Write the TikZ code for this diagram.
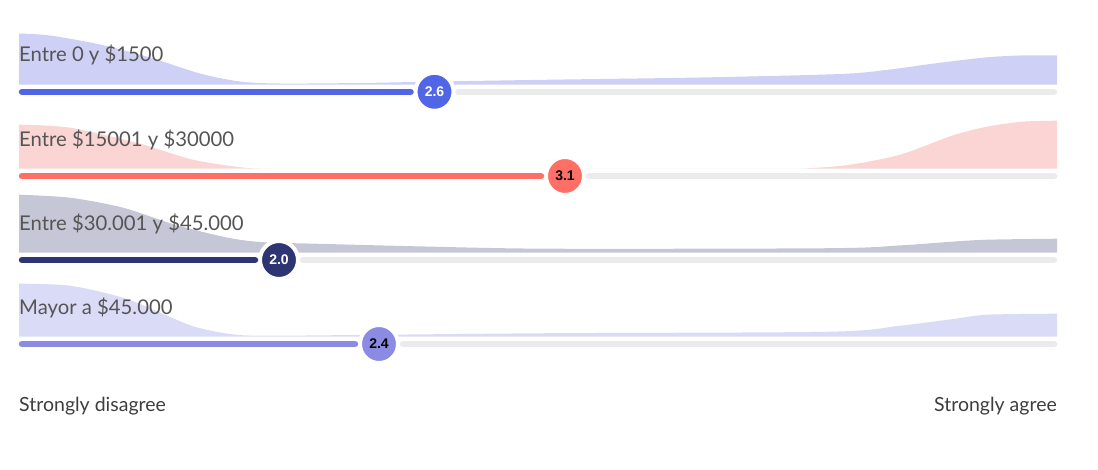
\documentclass[tikz,border=0pt]{standalone}
\usepackage{fontspec}
\setmainfont{Lato}
\newfontfamily\knobfont{Liberation Sans}
\usetikzlibrary{positioning}

\definecolor{blueA}{HTML}{5166E6}
\definecolor{blueArea}{HTML}{CFD0F5}
\definecolor{redA}{HTML}{FF6F66}
\definecolor{redArea}{HTML}{FBD4D4}
\definecolor{navyA}{HTML}{2D3572}
\definecolor{navyArea}{HTML}{C5C6D6}
\definecolor{lilaA}{HTML}{8B8BE3}
\definecolor{lilaArea}{HTML}{DADBF7}
\definecolor{trackgray}{HTML}{EBEBEB}
\definecolor{labelgray}{HTML}{555555}
\definecolor{axisgray}{HTML}{3E3E3E}

\begin{document}
\begin{tikzpicture}[x=1pt,y=1pt]
\tikzstyle{rowlabel}=[anchor=base west,inner sep=0pt,text=labelgray,font=\fontsize{20.3}{24}\selectfont]
\tikzstyle{axislabel}=[inner sep=0pt,text=axisgray,font=\fontsize{19.5}{23}\selectfont]
\tikzstyle{knob}=[circle,draw=white,line width=4pt,minimum size=38pt,inner sep=0pt,font=\knobfont\bfseries\fontsize{14}{14}\selectfont]
\tikzstyle{bar}=[line width=6.5pt,line cap=round]
\tikzstyle{track}=[bar,draw=trackgray,shorten <=3pt]
\useasboundingbox (0,0) rectangle (1098,-469);

% Entre 0 y $1500
\begin{scope}[yshift=-84.5pt]
\fill[blueArea] (19,0) -- plot[smooth] coordinates {(19,51) (50,49) (100,40) (150,27) (200,11) (240,3) (280,1) (360,1.5) (440,3) (550,4.8) (700,7) (840,10.5) (890,15) (934,21) (985,27) (1020,29) (1057,29)} -- (1057,0) -- cycle;
\node[rowlabel] (lab1) at (19,22.7) {Entre 0 y \$1500};
\coordinate (start1) at (22,-7.3);
\coordinate (end1) at (1054,-7.3);
\node[knob,fill=blueA,text=white] (knob1) at (434.5,-7.3) {2.6};
\draw[track] (knob1) -- (end1);
\draw[bar,draw=blueA,shorten >=3pt] (start1) -- (knob1);
\end{scope}

% Entre $15001 y $30000
\begin{scope}[yshift=-168.7pt]
\fill[redArea] (19,0) -- plot[smooth] coordinates {(19,44) (70,41) (140,25) (193,9) (245,1) (280,0)} -- (800,0) -- plot[smooth] coordinates {(800,0) (847,3.5) (900,14) (952,33) (987,42) (1022,47) (1057,48)} -- (1057,0) -- cycle;
\node[rowlabel] (lab2) at (19,22.7) {Entre \$15001 y \$30000};
\coordinate (start2) at (22,-7.3);
\coordinate (end2) at (1054,-7.3);
\node[knob,fill=redA,text=black] (knob2) at (565,-7.3) {3.1};
\draw[track] (knob2) -- (end2);
\draw[bar,draw=redA,shorten >=3pt] (start2) -- (knob2);
\end{scope}

% Entre $30.001 y $45.000
\begin{scope}[yshift=-252.7pt]
\fill[navyArea] (19,0) -- plot[smooth] coordinates {(19,58) (70,55) (123,45) (175,28) (228,15) (263,10.5) (316,9) (421,6.3) (550,4) (830,4.5) (900,7.3) (952,11) (987,13) (1057,14)} -- (1057,0) -- cycle;
\node[rowlabel] (lab3) at (19,22.7) {Entre \$30.001 y \$45.000};
\coordinate (start3) at (22,-7.3);
\coordinate (end3) at (1054,-7.3);
\node[knob,fill=navyA,text=white] (knob3) at (279,-7.3) {2.0};
\draw[track] (knob3) -- (end3);
\draw[bar,draw=navyA,shorten >=3pt] (start3) -- (knob3);
\end{scope}

% Mayor a $45.000
\begin{scope}[yshift=-336.7pt]
\fill[lilaArea] (19,0) -- plot[smooth] coordinates {(19,53) (70,51) (123,39) (158,25) (193,10.5) (228,3) (263,1) (386,2) (550,3.5) (830,5) (900,11) (952,17.5) (987,22) (1057,23)} -- (1057,0) -- cycle;
\node[rowlabel] (lab4) at (19,22.7) {Mayor a \$45.000};
\coordinate (start4) at (22,-7.3);
\coordinate (end4) at (1054,-7.3);
\node[knob,fill=lilaA,text=black] (knob4) at (379,-7.3) {2.4};
\draw[track] (knob4) -- (end4);
\draw[bar,draw=lilaA,shorten >=3pt] (start4) -- (knob4);
\end{scope}

\node[axislabel,anchor=base west] (low) at (19,-411.7) {Strongly disagree};
\node[axislabel,anchor=base east] (high) at (1057,-411.7) {Strongly agree};
\end{tikzpicture}
\end{document}
